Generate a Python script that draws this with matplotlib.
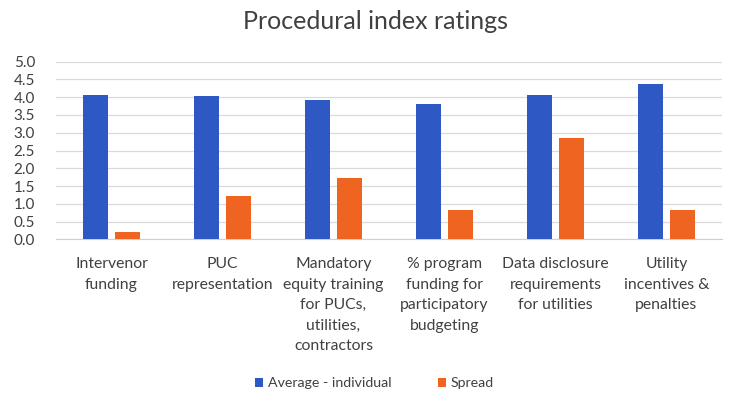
import matplotlib.pyplot as plt
import numpy as np

plt.rcParams['font.family'] = ['Lato', 'DejaVu Sans']

categories = ['Intervenor\nfunding', 'PUC\nrepresentation',
              'Mandatory\nequity training\nfor PUCs,\nutilities,\ncontractors',
              '% program\nfunding for\nparticipatory\nbudgeting',
              'Data disclosure\nrequirements\nfor utilities',
              'Utility\nincentives &\npenalties']
average = [4.05, 4.03, 3.92, 3.80, 4.05, 4.36]
spread = [0.20, 1.23, 1.73, 0.82, 2.85, 0.82]
y_ticks = [0.0, 0.5, 1.0, 1.5, 2.0, 2.5, 3.0, 3.5, 4.0, 4.5, 5.0]

blue = '#2E59C4'
orange = '#EE6420'

x = np.arange(len(categories))
width = 0.225
offset = 0.144

fig = plt.figure(figsize=(7.31, 3.98), dpi=100)
ax = fig.add_axes([0.0766, 0.3987, 0.911, 0.4463])

ax.bar(x - offset, average, width, color=blue, label='Average - individual', zorder=3)
ax.bar(x + offset, spread, width, color=orange, label='Spread', zorder=3)

ax.set_xlim(-0.5, len(categories) - 0.5)
ax.set_ylim(0, 5)
ax.set_yticks(y_ticks)
ax.set_yticklabels([f'{v:.1f}' for v in y_ticks], fontsize=11, color='#404040')
ax.yaxis.grid(True, color='#DADADA', linewidth=0.9, zorder=0)
ax.tick_params(axis='y', length=0, pad=15)
ax.tick_params(axis='x', length=0, pad=13)
ax.set_xticks(x)
ax.set_xticklabels(categories, fontsize=11.3, color='#404040', linespacing=1.58)
for side in ['top', 'right', 'left']:
    ax.spines[side].set_visible(False)
ax.spines['bottom'].set_color('#D0D0D0')

fig.text(0.513, 0.945, 'Procedural index ratings', ha='center', va='center',
         fontsize=18, color='#404040')

fig.legend(loc='center', bbox_to_anchor=(0.512, 0.037), ncol=2, frameon=False,
           fontsize=10.2, handlelength=0.6, handleheight=0.6, handletextpad=0.3,
           columnspacing=3.3, labelcolor='#404040')

fig.savefig('out.png', dpi=100)
